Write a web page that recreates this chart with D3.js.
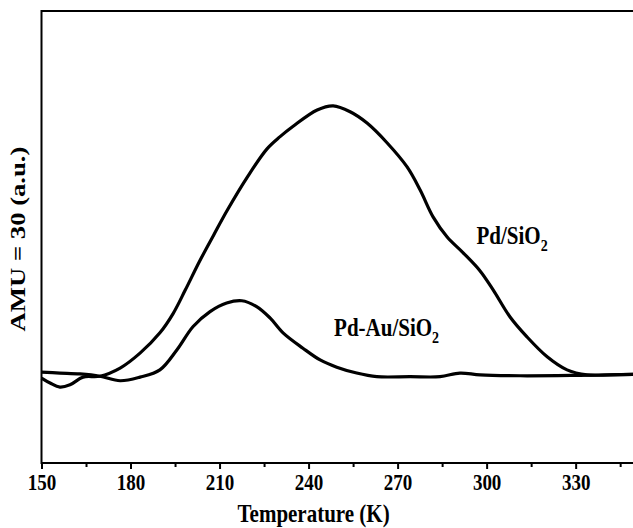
<!DOCTYPE html>
<meta charset="utf-8">
<style>
  body { margin: 0; background: #fff; }
  text { font-family: "Liberation Serif", "Times New Roman", serif; font-weight: bold; fill: #000; }
</style>
<body>
<script src="https://cdn.jsdelivr.net/npm/d3@7"></script>
<script>

    // data (temperature in K, signal in a.u.)
    var pdTemp = [150, 152.9, 156.2, 159.6, 164, 169.7, 176.5, 183.2, 189.9, 194.3, 198.4, 203.4,
        208, 212.5, 219.3, 226, 230.4, 234.8, 242.9, 248.3, 254, 259.7, 266.5, 273.2, 277.6, 282, 286.7,
        292.1, 297.8, 302.2, 307.9, 313.6, 320.4, 327.1, 333.8, 341.6, 350];
    var pdSignal = [18.8, 17.7, 16.8, 17.3, 19.0, 19.2, 21.0, 24.3, 28.8, 33.0, 38.2, 44.8,
        50.4, 55.8, 63.2, 69.5, 72.2, 74.5, 78.1, 79.0, 77.7, 75.2, 70.8, 65.5, 60.4, 54.4, 50.0,
        46.5, 42.5, 38.3, 32.3, 27.9, 23.5, 20.6, 19.5, 19.5, 19.6];

    var pdAuTemp = [150, 156.2, 163, 169.7, 176.5, 183.2, 189.9, 195.6, 201.1, 206.8, 212.4,
        217.5, 222.5, 227, 231.4, 238.1, 243.9, 249.5, 256.2, 263, 274.2, 284.3, 291,
        297.8, 311.3, 331.5, 350];
    var pdAuSignal = [20.1, 19.9, 19.7, 19.2, 18.2, 19.0, 20.6, 25.0, 30.2, 33.5, 35.4,
        35.9, 34.6, 32.1, 28.8, 25.4, 22.8, 21.2, 19.9, 19.1, 19.1, 19.1, 19.9,
        19.5, 19.3, 19.4, 19.6];

    var xTicks = [150, 180, 210, 240, 270, 300, 330];
    var xMinor = [165, 195, 225, 255, 285, 315, 345];

    // set the dimensions and margins of the graph
    var margin = {top: 11, right: -2, bottom: 65, left: 41.5},
        width = 633 - margin.left - margin.right,
        height = 528 - margin.top - margin.bottom;

    var x = d3.scaleLinear().domain([150, 350]).range([0, width]);
    var y = d3.scaleLinear().domain([0, 100]).range([height, 0]);

    var svg = d3.select("body").append("svg")
        .attr("width", 633)
        .attr("height", 528)
        .append("g")
        .attr("transform", "translate(" + margin.left + "," + margin.top + ")");

    // frame
    svg.append("rect")
        .attr("width", width)
        .attr("height", height)
        .attr("fill", "none")
        .attr("stroke", "#000")
        .attr("stroke-width", 2);

    // x axis, major and minor ticks
    var stretch = 1.16; // text in the original is a bit taller than wide
    var xAxis = svg.append("g")
        .attr("transform", "translate(0," + height + ")")
        .call(d3.axisBottom(x).tickValues(xTicks).tickSize(6).tickPadding(3.5)
            .tickFormat(d3.format("d")));
    xAxis.select(".domain").remove();
    xAxis.selectAll("line").attr("stroke-width", 2);
    xAxis.selectAll("text")
        .style("font-size", "19px")
        .attr("transform", "scale(1," + stretch + ")");

    var xAxisMinor = svg.append("g")
        .attr("transform", "translate(0," + height + ")")
        .call(d3.axisBottom(x).tickValues(xMinor).tickSize(4).tickFormat(""));
    xAxisMinor.select(".domain").remove();
    xAxisMinor.selectAll("line").attr("stroke-width", 2);

    // lines
    var line = d3.line()
        .x(function (d) { return x(d[0]); })
        .y(function (d) { return y(d[1]); })
        .curve(d3.curveCatmullRom);

    var series = [d3.zip(pdTemp, pdSignal), d3.zip(pdAuTemp, pdAuSignal)];

    svg.selectAll(".curve")
        .data(series)
        .enter().append("path")
        .attr("class", "curve")
        .attr("d", line)
        .attr("fill", "none")
        .attr("stroke", "#000")
        .attr("stroke-width", 3.2)
        .attr("stroke-linejoin", "round");

    // axis titles
    svg.append("text")
        .attr("transform", "translate(" + (x(240) + 5) + "," + (height + 59) + ") scale(1," + stretch + ")")
        .attr("text-anchor", "middle")
        .style("font-size", "21px")
        .text("Temperature (K)");

    svg.append("text")
        .attr("transform", "translate(-17," + (y(50) + 2) + ") rotate(-90) scale(1.27,1)")
        .attr("text-anchor", "middle")
        .style("font-size", "21px")
        .text("AMU = 30 (a.u.)");

    // labels
    function label(t, v, name) {
        var txt = svg.append("text")
            .attr("transform", "translate(" + x(t) + "," + y(v) + ") scale(1," + stretch + ")")
            .style("font-size", "21px");
        txt.append("tspan").text(name);
        txt.append("tspan").attr("dy", 6).style("font-size", "14px").text("2");
    }
    label(296.6, 48.4, "Pd/SiO");
    label(248.6, 28.0, "Pd-Au/SiO");

</script>
</body>
